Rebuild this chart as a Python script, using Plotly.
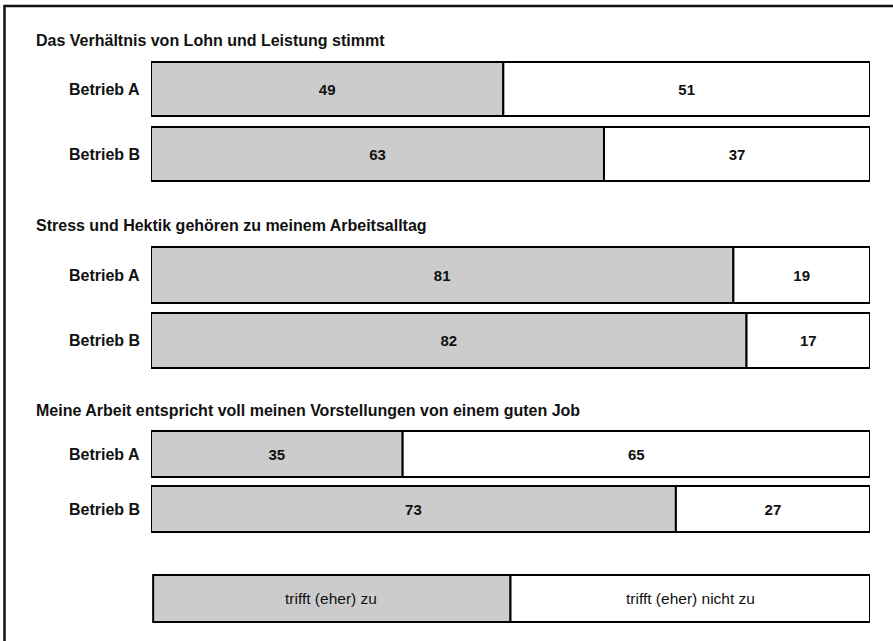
import plotly.graph_objects as go

# Survey statements and companies
statements = [
    "Das Verhältnis von Lohn und Leistung stimmt",
    "Stress und Hektik gehören zu meinem Arbeitsalltag",
    "Meine Arbeit entspricht voll meinen Vorstellungen von einem guten Job",
]
row_labels = ["Betrieb A", "Betrieb B", "Betrieb A", "Betrieb B", "Betrieb A", "Betrieb B"]

# Percentages per row (statement 1 A/B, statement 2 A/B, statement 3 A/B)
trifft_zu = [49, 63, 81, 82, 35, 73]
trifft_nicht_zu = [51, 37, 19, 17, 65, 27]

legend_labels = ["trifft (eher) zu", "trifft (eher) nicht zu"]

W, H = 893, 641
FONT = "Liberation Sans, Arial, sans-serif"
GREY = "#cccccc"
INK = "#111111"

# vertical layout in pixel units (y axis runs 0..641 top-down)
row_centers = [89, 154, 275, 340.5, 454, 509]
row_heights = [54, 54, 56, 55, 46, 46]
title_y = [40, 225, 410]
legend_y0, legend_y1 = 575, 622

# each bar is normalised to its row total so all bars span the full width
totals = [a + b for a, b in zip(trifft_zu, trifft_nicht_zu)]
share_zu = [a / t * 100 for a, t in zip(trifft_zu, totals)]
share_nicht = [b / t * 100 for b, t in zip(trifft_nicht_zu, totals)]

value_font = dict(family=FONT, size=15, color=INK, weight="bold")

fig = go.Figure()
fig.add_trace(go.Bar(
    orientation="h",
    x=share_zu, y=row_centers, width=row_heights, base=[0] * len(share_zu),
    marker=dict(color=GREY, line=dict(color="#000000", width=2)),
    text=[str(v) for v in trifft_zu], textposition="inside",
    insidetextanchor="middle", textfont=value_font,
    name=legend_labels[0], hoverinfo="skip",
))
fig.add_trace(go.Bar(
    orientation="h",
    x=share_nicht, y=row_centers, width=row_heights, base=share_zu,
    marker=dict(color="#ffffff", line=dict(color="#000000", width=2)),
    text=[str(v) for v in trifft_nicht_zu], textposition="inside",
    insidetextanchor="middle", textfont=value_font,
    name=legend_labels[1], hoverinfo="skip",
))

annotations = []
for t, ty in zip(statements, title_y):
    annotations.append(dict(
        text=t, xref="paper", yref="y", x=34 / W, y=ty, xanchor="left",
        yanchor="middle", showarrow=False,
        font=dict(family=FONT, size=16, color=INK, weight="bold"),
    ))
for lab, cy in zip(row_labels, row_centers):
    annotations.append(dict(
        text=lab, xref="paper", yref="y", x=142 / W, y=cy, xanchor="right",
        yanchor="middle", showarrow=False,
        font=dict(family=FONT, size=16, color=INK, weight="bold"),
    ))

# legend box drawn beneath the chart
shapes = [
    dict(type="rect", xref="x", yref="y", x0=0.3, x1=50, y0=legend_y0, y1=legend_y1,
         fillcolor=GREY, line=dict(color="#000000", width=2)),
    dict(type="rect", xref="x", yref="y", x0=50, x1=100, y0=legend_y0, y1=legend_y1,
         fillcolor="#ffffff", line=dict(color="#000000", width=2)),
    # frame around the whole graphic
    dict(type="rect", xref="paper", yref="y", x0=4.5 / W, x1=1.2, y0=6, y1=700,
         fillcolor="rgba(0,0,0,0)", line=dict(color=INK, width=2.5)),
]
for lab, (a, b) in zip(legend_labels, [(0, 50), (50, 100)]):
    annotations.append(dict(
        text=lab, xref="x", yref="y", x=(a + b) / 2, y=(legend_y0 + legend_y1) / 2,
        xanchor="center", yanchor="middle", showarrow=False,
        font=dict(family=FONT, size=15.5, color=INK),
    ))

fig.update_layout(
    width=W, height=H,
    margin=dict(l=0, r=0, t=0, b=0),
    paper_bgcolor="#ffffff", plot_bgcolor="#ffffff",
    barmode="overlay", showlegend=False,
    xaxis=dict(domain=[151 / W, 870 / W], range=[0, 100], visible=False, fixedrange=True),
    yaxis=dict(domain=[0, 1], range=[H, 0], visible=False, fixedrange=True),
    annotations=annotations, shapes=shapes,
)

fig.write_html("out.html")
